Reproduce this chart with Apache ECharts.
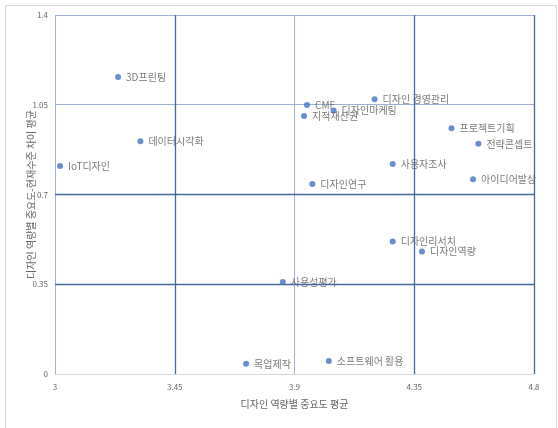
<!DOCTYPE html>
<html>
<head>
    <meta charset="UTF-8">
    <title>디자인 역량 분석</title>
    <script src="https://cdn.jsdelivr.net/npm/echarts@6.0.0/dist/echarts.min.js"></script>
    <style>
        html, body { margin: 0; padding: 0; background: #fff; }
        #chart { width: 558px; height: 428px; }
    </style>
</head>
<body>
    <div id="chart"></div>
    <script>
        // 역량 이름과 값
        var names = ['3D프린팅', '데이터시각화', 'IoT디자인', 'CMF', '디자인마케팅', '지적재산권',
            '디자인 경영관리', '프로젝트기획', '전략콘셉트', '사용자조사', '아이디어발상', '디자인연구',
            '디자인리서치', '디자인역량', '사용성평가', '소프트웨어 활용', '목업제작'];
        var importance = [3.237, 3.321, 3.019, 3.947, 4.047, 3.936,
            4.201, 4.490, 4.591, 4.269, 4.571, 3.967,
            4.269, 4.379, 3.856, 4.029, 3.718];
        var gap = [1.158, 0.908, 0.811, 1.049, 1.028, 1.006,
            1.071, 0.958, 0.898, 0.819, 0.759, 0.741,
            0.517, 0.478, 0.359, 0.051, 0.040];
        var xTicks = [3, 3.45, 3.9, 4.35, 4.8];
        var yTicks = [0, 0.35, 0.7, 1.05, 1.4];
        var xLines = [3.45, 4.35, 4.8];
        var yLines = [0.35, 0.7];

        var font = '"Noto Sans CJK KR", sans-serif';
        var points = names.map(function (n, i) { return { name: n, value: [importance[i], gap[i]] }; });

        var chart = echarts.init(document.getElementById('chart'));
        chart.setOption({
            animation: false,
            textStyle: { fontFamily: font },
            graphic: [{
                type: 'rect', left: 3, top: 3,
                shape: { width: 551, height: 440 },
                style: { fill: 'none', stroke: '#d9d9d9', lineWidth: 1 },
                silent: true
            }],
            grid: { left: 55, right: 24, top: 15, bottom: 54 },
            xAxis: {
                type: 'value', min: 3, max: 4.8, interval: 0.45,
                name: '디자인 역량별 중요도 평균', nameLocation: 'middle', nameGap: 25,
                nameTextStyle: { color: '#666', fontSize: 10, fontFamily: font },
                axisLine: { show: true, lineStyle: { color: '#d9d9d9' } },
                axisTick: { show: false },
                axisLabel: { color: '#666', fontSize: 8, margin: 9,
                    formatter: function (v) { return xTicks.indexOf(+v.toFixed(2)) >= 0 ? String(+v.toFixed(2)) : ''; } },
                splitLine: { show: true, lineStyle: { color: '#9db3d3', width: 1 } }
            },
            yAxis: {
                type: 'value', min: 0, max: 1.4, interval: 0.35,
                name: '디자인 역량별 중요도-현재수준 차이 평균', nameLocation: 'middle', nameGap: 19, nameRotate: 90,
                nameMoveOverlap: false,
                nameTextStyle: { color: '#666', fontSize: 10, fontFamily: font },
                axisLine: { show: false },
                axisTick: { show: false },
                axisLabel: { color: '#666', fontSize: 8, margin: 7,
                    formatter: function (v) { return yTicks.indexOf(+v.toFixed(2)) >= 0 ? String(+v.toFixed(2)) : ''; } },
                splitLine: { show: true, lineStyle: { color: '#9db3d3', width: 1 } }
            },
            series: [{
                type: 'scatter',
                symbol: 'circle', symbolSize: 6,
                itemStyle: { color: '#4472c4' },
                data: points,
                label: {
                    show: true, position: 'right', distance: 5,
                    formatter: '{b}', color: '#595959', fontSize: 10, fontFamily: font
                },
                markLine: {
                    silent: true, symbol: 'none',
                    label: { show: false },
                    lineStyle: { color: '#44679f', width: 1.3, type: 'solid' },
                    data: xLines.map(function (v) { return { xAxis: v }; })
                        .concat(yLines.map(function (v) { return { yAxis: v }; }))
                }
            }]
        });
    </script>
</body>
</html>
